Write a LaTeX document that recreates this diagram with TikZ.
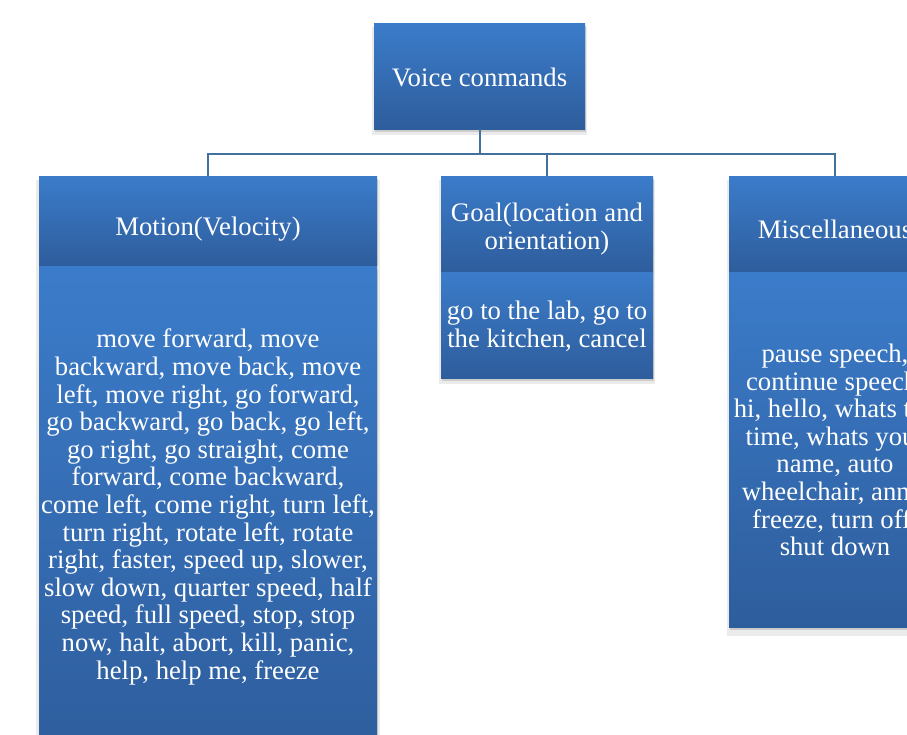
\documentclass[tikz,border=0pt]{standalone}
\usepackage{fontspec}
\setmainfont{Liberation Serif}
\usetikzlibrary{shadows}
\definecolor{boxtop}{HTML}{3B7CCA}
\definecolor{boxbot}{HTML}{2E5D9C}
\definecolor{linkc}{HTML}{41719C}
\tikzset{
  box/.style={draw=none, rectangle, inner sep=0pt, top color=boxtop, bottom color=boxbot,
    general shadow={fill=black!8, shadow xshift=0pt, shadow yshift=-5pt, shadow scale=1.02},
    general shadow={fill=black!20, shadow xshift=1pt, shadow yshift=-3pt}},
  txt/.style={text=white, align=center, inner sep=0pt, font=\fontsize{26.7}{27.6}\selectfont},
  link/.style={draw=linkc, line width=2pt}
}
\begin{document}
\begin{tikzpicture}[x=1pt, y=-1pt]
\useasboundingbox (0,0) rectangle (907,734);
\clip (0,0) rectangle (907,734);
\fill[white] (0,0) rectangle (907,734);
% boxes
\node[box, minimum width=211pt, minimum height=106pt] (top) at (479.5,76) {};
\node[box, minimum width=338pt, minimum height=90pt] (mh) at (208,221) {};
\node[box, minimum width=212pt, minimum height=96pt] (gh) at (547,224) {};
\node[box, minimum width=212pt, minimum height=96pt] (xh) at (835,224) {};
\node[box, minimum width=338pt, minimum height=494pt] (mb) at (208,513) {};
\node[box, minimum width=212pt, minimum height=106pt] (gb) at (547,325) {};
\node[box, minimum width=212pt, minimum height=355pt] (xb) at (835,449.5) {};
% connectors
\coordinate (bus) at (479,154);
\draw[link] (top.south) -- (top.south |- bus);
\draw[link] (mh.north) |- (bus) -| (xh.north);
\draw[link] (gh.north) -- (gh.north |- bus);
% texts
\node[txt] (ttop) at (479.5,77) {Voice conmands};
\node[txt] (tmh) at (208,229) {Motion(Velocity)};
\node[txt] (tgh) at (547,229) {Goal(location and\\orientation)};
\node[txt] (txh) at (835,229) {Miscellaneous};
\node[txt] (tmb) at (208,507) {move forward, move\\backward, move back, move\\left, move right, go forward,\\go backward, go back, go left,\\go right, go straight, come\\forward, come backward,\\come left, come right, turn left,\\turn right, rotate left, rotate\\right, faster, speed up, slower,\\slow down, quarter speed, half\\speed, full speed, stop, stop\\now, halt, abort, kill, panic,\\help, help me, freeze};
\node[txt] (tgb) at (547,326) {go to the lab, go to\\the kitchen, cancel};
\node[txt] (txb) at (835,450) {pause speech,\\continue speech,\\hi, hello, whats the\\time, whats your\\name, auto\\wheelchair, anna,\\freeze, turn off,\\shut down};
\end{tikzpicture}
\end{document}
